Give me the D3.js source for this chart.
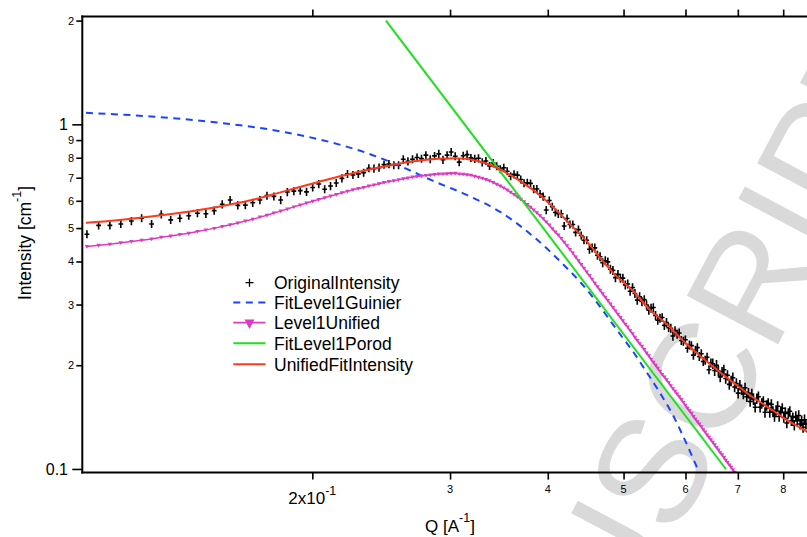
<!DOCTYPE html>
<html lang="en">

<head>
    <meta charset="UTF-8">
    <title>Unified Fit</title>
    <style>
        body { margin: 0; background: #fff; }
        svg text { font-family: "Liberation Sans", Arial, sans-serif; fill: #000; }
    </style>
</head>

<body>

    <svg id="chart" width="807" height="537"></svg>

    <script src="https://cdn.jsdelivr.net/npm/d3@7/dist/d3.min.js"></script>

    <script>

        // measured Q grid [A^-1]

        var qData = [
            0.103, 0.1066, 0.1102, 0.1138, 0.1174, 0.121, 0.1246, 0.1282, 0.1318, 0.1354,
            0.139, 0.1426, 0.1462, 0.1498, 0.1534, 0.157, 0.1606, 0.1642, 0.1678, 0.1714,
            0.175, 0.1786, 0.1822, 0.1858, 0.1894, 0.193, 0.1966, 0.2002, 0.2038, 0.2074,
            0.211, 0.2146, 0.2182, 0.2218, 0.2254, 0.229, 0.2326, 0.2362, 0.2398, 0.2434,
            0.247, 0.2506, 0.2542, 0.2578, 0.2614, 0.265, 0.2686, 0.2722, 0.2758, 0.2794,
            0.283, 0.2866, 0.2902, 0.2938, 0.2974, 0.301, 0.3046, 0.3082, 0.3118, 0.3154,
            0.319, 0.3226, 0.3262, 0.3298, 0.3334, 0.337, 0.3406, 0.3442, 0.3478, 0.3514,
            0.355, 0.3586, 0.3622, 0.3658, 0.3694, 0.373, 0.3766, 0.3802, 0.3838, 0.3874,
            0.391, 0.3946, 0.3982, 0.4018, 0.4054, 0.409, 0.4126, 0.4162, 0.4198, 0.4234,
            0.427, 0.4306, 0.4342, 0.4378, 0.4414, 0.445, 0.4486, 0.4522, 0.4558, 0.4594,
            0.463, 0.4666, 0.4702, 0.4738, 0.4774, 0.481, 0.4846, 0.4882, 0.4918, 0.4954,
            0.499, 0.5026, 0.5062, 0.5098, 0.5134, 0.517, 0.5206, 0.5242, 0.5278, 0.5314,
            0.535, 0.5386, 0.5422, 0.5458, 0.5494, 0.553, 0.5566, 0.5602, 0.5638, 0.5674,
            0.571, 0.5746, 0.5782, 0.5818, 0.5854, 0.589, 0.5926, 0.5962, 0.5998, 0.6034,
            0.607, 0.6106, 0.6142, 0.6178, 0.6214, 0.625, 0.6286, 0.6322, 0.6358, 0.6394,
            0.643, 0.6466, 0.6502, 0.6538, 0.6574, 0.661, 0.6646, 0.6682, 0.6718, 0.6754,
            0.679, 0.6826, 0.6862, 0.6898, 0.6934, 0.697, 0.7006, 0.7042, 0.7078, 0.7114,
            0.715, 0.7186, 0.7222, 0.7258, 0.7294, 0.733, 0.7366, 0.7402, 0.7438, 0.7474,
            0.751, 0.7546, 0.7582, 0.7618, 0.7654, 0.769, 0.7726, 0.7762, 0.7798, 0.7834,
            0.787, 0.7906, 0.7942, 0.7978, 0.8014, 0.805, 0.8086, 0.8122, 0.8158, 0.8194,
            0.823, 0.8266, 0.8302, 0.8338, 0.8374, 0.841, 0.8446, 0.8482, 0.8518, 0.8554
        ];

        // OriginalIntensity, one value per Q

        var intensityData = [
            0.480, 0.509, 0.509, 0.514, 0.524, 0.534, 0.514, 0.548, 0.528, 0.534,
            0.543, 0.552, 0.550, 0.562, 0.586, 0.603, 0.582, 0.583, 0.592, 0.603,
            0.621, 0.618, 0.603, 0.636, 0.640, 0.642, 0.637, 0.656, 0.671, 0.648,
            0.662, 0.676, 0.697, 0.718, 0.713, 0.718, 0.724, 0.746, 0.744, 0.749,
            0.764, 0.767, 0.761, 0.761, 0.792, 0.781, 0.792, 0.801, 0.795, 0.814,
            0.792, 0.810, 0.821, 0.789, 0.814, 0.831, 0.808, 0.777, 0.811, 0.817,
            0.799, 0.794, 0.797, 0.776, 0.783, 0.757, 0.772, 0.756, 0.741, 0.748,
            0.731, 0.707, 0.716, 0.712, 0.692, 0.675, 0.677, 0.674, 0.649, 0.649,
            0.628, 0.617, 0.564, 0.601, 0.577, 0.555, 0.550, 0.550, 0.507, 0.533,
            0.512, 0.512, 0.486, 0.495, 0.476, 0.461, 0.461, 0.434, 0.438, 0.438,
            0.417, 0.413, 0.397, 0.402, 0.399, 0.380, 0.377, 0.359, 0.367, 0.358,
            0.358, 0.342, 0.344, 0.328, 0.336, 0.323, 0.309, 0.316, 0.306, 0.310,
            0.299, 0.289, 0.293, 0.294, 0.279, 0.270, 0.274, 0.275, 0.261, 0.266,
            0.257, 0.256, 0.243, 0.252, 0.246, 0.248, 0.236, 0.235, 0.237, 0.224,
            0.229, 0.228, 0.214, 0.221, 0.225, 0.212, 0.216, 0.205, 0.207, 0.211,
            0.194, 0.203, 0.202, 0.193, 0.200, 0.1925, 0.185, 0.191, 0.194, 0.183,
            0.187, 0.176, 0.180, 0.184, 0.173, 0.177, 0.166, 0.175, 0.170, 0.165,
            0.172, 0.162, 0.166, 0.157, 0.165, 0.159, 0.151, 0.160, 0.162, 0.151,
            0.155, 0.157, 0.146, 0.153, 0.155, 0.146, 0.154, 0.147, 0.142, 0.148,
            0.152, 0.142, 0.147, 0.150, 0.141, 0.146, 0.136, 0.145, 0.147, 0.138,
            0.141, 0.134, 0.142, 0.138, 0.143, 0.135, 0.138, 0.132, 0.139, 0.135
        ];

        // Level1Unified, on the same Q grid (runs off the bottom of the axis)

        var unifiedData = [
            0.442, 0.446, 0.449, 0.453, 0.457, 0.461, 0.465, 0.470, 0.474, 0.479,
            0.483, 0.489, 0.494, 0.499, 0.505, 0.511, 0.517, 0.524, 0.530, 0.538,
            0.545, 0.553, 0.560, 0.568, 0.576, 0.583, 0.591, 0.598, 0.605, 0.612,
            0.619, 0.626, 0.633, 0.639, 0.646, 0.651, 0.656, 0.662, 0.667, 0.672,
            0.678, 0.682, 0.686, 0.690, 0.695, 0.699, 0.703, 0.706, 0.708, 0.711,
            0.713, 0.715, 0.718, 0.718, 0.719, 0.720, 0.721, 0.718, 0.716, 0.714,
            0.712, 0.707, 0.702, 0.697, 0.692, 0.686, 0.678, 0.670, 0.662, 0.654,
            0.645, 0.635, 0.626, 0.616, 0.606, 0.596, 0.585, 0.575, 0.564, 0.554,
            0.543, 0.532, 0.521, 0.510, 0.498, 0.487, 0.477, 0.466, 0.455, 0.444,
            0.433, 0.423, 0.412, 0.402, 0.392, 0.382, 0.373, 0.364, 0.355, 0.346,
            0.338, 0.330, 0.3225, 0.315, 0.308, 0.301, 0.294, 0.2875, 0.281, 0.275,
            0.269, 0.263, 0.258, 0.252, 0.247, 0.241, 0.236, 0.231, 0.227, 0.222,
            0.217, 0.213, 0.208, 0.204, 0.200, 0.196, 0.192, 0.188, 0.185, 0.1815,
            0.178, 0.1745, 0.171, 0.168, 0.165, 0.162, 0.159, 0.156, 0.153, 0.150,
            0.1475, 0.145, 0.142, 0.1395, 0.137, 0.135, 0.1325, 0.130, 0.128, 0.1255,
            0.1235, 0.1215, 0.1195, 0.1175, 0.1155, 0.1135, 0.1115, 0.110, 0.108, 0.106,
            0.1045, 0.1027, 0.1011, 0.0995, 0.0979, 0.0963
        ];

        // FitLevel1Guinier

        var guinierQ = [0.1027, 0.1243, 0.1512, 0.184, 0.2128, 0.2347, 0.2589, 0.2855, 0.3151, 0.3477,
            0.3853, 0.4047, 0.423, 0.4399, 0.4553, 0.4711, 0.4949, 0.5146, 0.5327, 0.5567,
            0.579, 0.5963, 0.6172, 0.6227];
        var guinierI = [1.080, 1.054, 1.012, 0.950, 0.883, 0.826, 0.757, 0.685, 0.624, 0.557,
            0.468, 0.423, 0.383, 0.349, 0.318, 0.287, 0.246, 0.2185, 0.194, 0.166,
            0.1425, 0.124, 0.104, 0.0993];

        // FitLevel1Porod (straight power law)

        var porodQ = [0.2484, 0.676];
        var porodI = [2.0, 0.0998];

        // UnifiedFitIntensity

        var fitQ = [0.1027, 0.1126, 0.1243, 0.1371, 0.1512, 0.1668, 0.184, 0.203, 0.2239, 0.247,
            0.2698, 0.2899, 0.3044, 0.3199, 0.3359, 0.3528, 0.3705, 0.3891, 0.4087, 0.4293,
            0.4508, 0.4667, 0.49, 0.5146, 0.54, 0.5679, 0.60, 0.6263, 0.66, 0.691,
            0.73, 0.762, 0.80, 0.83, 0.86];
        var fitI = [0.518, 0.527, 0.540, 0.556, 0.576, 0.602, 0.639, 0.679, 0.719, 0.754,
            0.781, 0.794, 0.797, 0.789, 0.766, 0.727, 0.680, 0.628, 0.568, 0.507,
            0.452, 0.410, 0.362, 0.328, 0.290, 0.263, 0.232, 0.213, 0.193, 0.178,
            0.162, 0.152, 0.141, 0.134, 0.128];

        // relative error of the measured points [%], by Q range

        var errQ = [0.1, 0.45, 0.65];
        var errPct = [2.7, 3.0, 3.5];

        // ticks

        var xTicks = [0.2, 0.3, 0.4, 0.5, 0.6, 0.7, 0.8];
        var xTickLabels = ["2x10", "3", "4", "5", "6", "7", "8"];
        var yMajor = [0.1, 1];
        var yMajorLabels = ["0.1", "1"];
        var yMinor = [0.2, 0.3, 0.4, 0.5, 0.6, 0.7, 0.8, 0.9, 2];
        var yMinorLabels = ["2", "3", "4", "5", "6", "7", "8", "9", "2"];

        var legendNames = ["OriginalIntensity", "FitLevel1Guinier", "Level1Unified", "FitLevel1Porod", "UnifiedFitIntensity"];

        var colBlue = "#1a44ff",
            colMagenta = "#dc3ac3",
            colGreen = "#1ee01e",
            colRed = "#ff3a1c";

        var svg = d3.select("#chart"),
            mLeft = 82.3,
            mRight = 823.2,
            mTop = 16.6,
            mBottom = 472.6;

        var x = d3.scaleLog().domain([0.1016, 0.9]).range([mLeft, mRight]);
        var y = d3.scaleLog().domain([0.0976, 2.054]).range([mBottom, mTop]);

        // watermark of the page, behind everything

        svg.append("text")
            .attr("transform", "translate(467,929) rotate(-62)")
            .attr("x", 991.7)
            .attr("text-anchor", "end")
            .attr("font-size", 150)
            .style("fill", "#d9d9d9")
            .text("ACCEPTED MANUSCRIPT");

        // clip traces to the plot frame

        svg.append("clipPath").attr("id", "plotclip")
            .append("rect")
            .attr("x", mLeft).attr("y", mTop)
            .attr("width", mRight - mLeft).attr("height", mBottom - mTop);

        var plot = svg.append("g").attr("clip-path", "url(#plotclip)");

        // measured points: + marker with vertical error bar

        function errAt(q) {
            return errPct[d3.bisectRight(errQ, q) - 1] / 100;
        }

        var pts = "";
        qData.forEach(function(q, i) {
            var v = intensityData[i],
                e = errAt(q),
                px = x(q),
                py = y(v);
            pts += "M" + px + "," + y(v * (1 + e)) + "V" + y(v * (1 - e));
            pts += "M" + (px - 2.4) + "," + py + "H" + (px + 2.4);
        });
        plot.append("path")
            .attr("d", pts)
            .attr("fill", "none")
            .attr("stroke", "#000")
            .attr("stroke-width", 1.6);

        // Guinier fit, dashed

        var lineGen = d3.line().curve(d3.curveMonotoneX);

        plot.append("path")
            .attr("d", lineGen(guinierQ.map(function(q, i) { return [x(q), y(guinierI[i])]; })))
            .attr("fill", "none")
            .attr("stroke", colBlue)
            .attr("stroke-width", 2)
            .attr("stroke-dasharray", "7,5.5");

        // Level1Unified line and triangle markers

        var uniPts = unifiedData.map(function(v, i) { return [x(qData[i]), y(v)]; });

        plot.append("path")
            .attr("d", d3.line()(uniPts))
            .attr("fill", "none")
            .attr("stroke", colMagenta)
            .attr("stroke-width", 1.5);

        plot.selectAll(".tri").data(uniPts).enter().append("path")
            .attr("class", "tri")
            .attr("d", function(p) {
                return "M" + (p[0] - 2.2) + "," + (p[1] - 1.5) + "H" + (p[0] + 2.2) + "L" + p[0] + "," + (p[1] + 2.2) + "Z";
            })
            .attr("fill", colMagenta);

        // Porod power law

        plot.append("path")
            .attr("d", d3.line()(porodQ.map(function(q, i) { return [x(q), y(porodI[i])]; })))
            .attr("fill", "none")
            .attr("stroke", colGreen)
            .attr("stroke-width", 2);

        // unified fit intensity

        plot.append("path")
            .attr("d", lineGen(fitQ.map(function(q, i) { return [x(q), y(fitI[i])]; })))
            .attr("fill", "none")
            .attr("stroke", colRed)
            .attr("stroke-width", 2);

        // ticks (bottom, top, left)

        function cleanAxis(g) {
            g.select(".domain").remove();
            g.selectAll(".tick line").attr("stroke", "#000").attr("stroke-width", 1.6);
        }

        svg.append("g")
            .attr("transform", "translate(0," + mBottom + ")")
            .call(d3.axisBottom(x).tickValues(xTicks).tickSize(7).tickFormat(""))
            .call(cleanAxis);

        svg.append("g")
            .attr("transform", "translate(0," + mTop + ")")
            .call(d3.axisTop(x).tickValues(xTicks).tickSize(7).tickFormat(""))
            .call(cleanAxis);

        svg.append("g")
            .attr("transform", "translate(" + mLeft + ",0)")
            .call(d3.axisLeft(y).tickValues(yMajor).tickSize(10).tickFormat(""))
            .call(cleanAxis);

        svg.append("g")
            .attr("transform", "translate(" + mLeft + ",0)")
            .call(d3.axisLeft(y).tickValues(yMinor).tickSize(6).tickFormat(""))
            .call(cleanAxis);

        // frame lines

        var frame = svg.append("g").attr("stroke", "#000").attr("stroke-width", 2);
        frame.append("line").attr("x1", mLeft).attr("x2", mLeft).attr("y1", mTop - 1).attr("y2", mBottom + 1);
        frame.append("line").attr("x1", mLeft - 1).attr("x2", mRight).attr("y1", mTop).attr("y2", mTop);
        frame.append("line").attr("x1", mLeft - 1).attr("x2", mRight).attr("y1", mBottom).attr("y2", mBottom);

        // tick labels

        xTicks.forEach(function(v, i) {
            var t = svg.append("text")
                .attr("x", x(v))
                .attr("text-anchor", "middle");
            if (i == 0) {
                t.attr("y", 504.3).attr("font-size", 17);
                t.append("tspan").text(xTickLabels[i]);
                t.append("tspan").attr("font-size", 12.5).attr("dy", -9.5).text("-1");
            } else {
                t.attr("y", 493.3).attr("font-size", 11).text(xTickLabels[i]);
            }
        });

        yMajor.forEach(function(v, i) {
            svg.append("text")
                .attr("x", 68)
                .attr("y", y(v) + 5.7)
                .attr("text-anchor", "end")
                .attr("font-size", 16)
                .text(yMajorLabels[i]);
        });

        yMinor.forEach(function(v, i) {
            svg.append("text")
                .attr("x", 74)
                .attr("y", y(v) + 4)
                .attr("text-anchor", "end")
                .attr("font-size", 11)
                .text(yMinorLabels[i]);
        });

        // axis titles

        var xt = svg.append("text")
            .attr("x", 450)
            .attr("y", 532)
            .attr("text-anchor", "middle")
            .attr("font-size", 17);
        xt.append("tspan").text("Q [A");
        xt.append("tspan").attr("font-size", 12.5).attr("dy", -10).text("-1");
        xt.append("tspan").attr("dy", 10).text("]");

        var yt = svg.append("text")
            .attr("transform", "translate(30.7,243) rotate(-90)")
            .attr("text-anchor", "middle")
            .attr("font-size", 17.5);
        yt.append("tspan").text("Intensity [cm");
        yt.append("tspan").attr("font-size", 12.5).attr("dy", -10).text("-1");
        yt.append("tspan").attr("dy", 10).text("]");

        // legend

        var legSymX = 249.5,
            legTextX = 274,
            legLineY = [282.7, 302.6, 322.6, 343.3, 364.3],
            legBase = [288.5, 309.3, 329.4, 350, 370.6];

        var leg = svg.append("g");

        leg.append("path")
            .attr("d", "M" + (legSymX - 4) + "," + legLineY[0] + "H" + (legSymX + 4) + "M" + legSymX + "," + (legLineY[0] - 4) + "V" + (legLineY[0] + 4))
            .attr("stroke", "#000").attr("stroke-width", 1.3);

        leg.append("line")
            .attr("x1", 233.3).attr("x2", 265.5).attr("y1", legLineY[1]).attr("y2", legLineY[1])
            .attr("stroke", colBlue).attr("stroke-width", 2).attr("stroke-dasharray", "7,5.5");

        leg.append("line")
            .attr("x1", 233.3).attr("x2", 265.5).attr("y1", legLineY[2]).attr("y2", legLineY[2])
            .attr("stroke", colMagenta).attr("stroke-width", 1.6);
        leg.append("path")
            .attr("d", "M" + (legSymX - 5) + "," + (legLineY[2] - 3) + "H" + (legSymX + 5) + "L" + legSymX + "," + (legLineY[2] + 6.5) + "Z")
            .attr("fill", colMagenta);

        leg.append("line")
            .attr("x1", 233.3).attr("x2", 265.5).attr("y1", legLineY[3]).attr("y2", legLineY[3])
            .attr("stroke", colGreen).attr("stroke-width", 2);

        leg.append("line")
            .attr("x1", 233.3).attr("x2", 265.5).attr("y1", legLineY[4]).attr("y2", legLineY[4])
            .attr("stroke", colRed).attr("stroke-width", 2);

        legendNames.forEach(function(n, i) {
            leg.append("text")
                .attr("x", legTextX)
                .attr("y", legBase[i])
                .attr("font-size", 17.5)
                .text(n);
        });

    </script>

</body>

</html>
